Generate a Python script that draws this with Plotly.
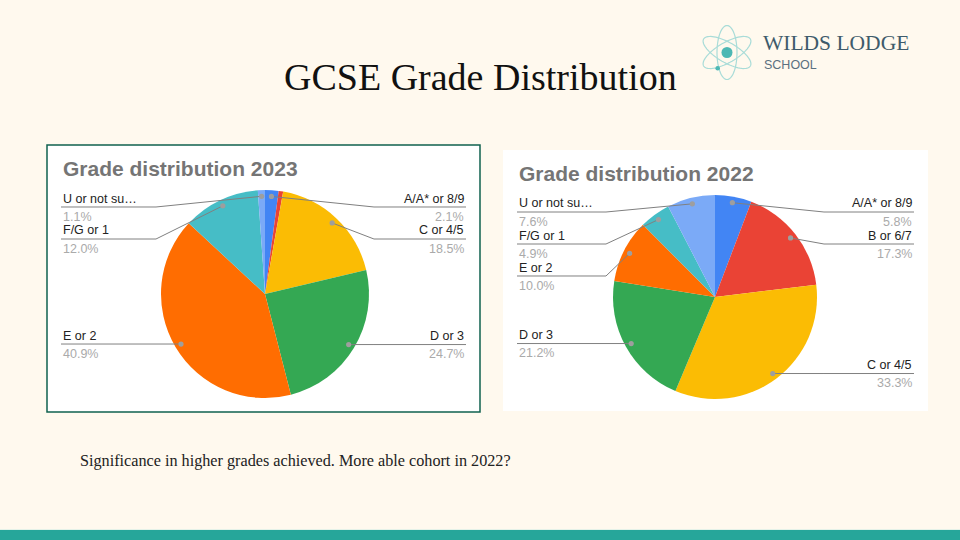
import numpy as np
import plotly.graph_objects as go

W, H = 960, 540

# ---------------- data ----------------
categories = ["A/A* or 8/9", "B or 6/7", "C or 4/5", "D or 3", "E or 2", "F/G or 1", "U or not submitted"]
values_2023 = [2.1, 0.7, 18.5, 24.7, 40.9, 12.0, 1.1]
values_2022 = [5.8, 17.3, 33.3, 21.2, 10.0, 4.9, 7.6]
slice_colors = ["#4285F4", "#EA4335", "#FBBC04", "#34A853", "#FF6D01", "#46BDC6", "#7BAAF7"]

page_title = "GCSE Grade Distribution"
chart_titles = ["Grade distribution 2023", "Grade distribution 2022"]
note_text = "Significance in higher grades achieved. More able cohort in 2022?"
logo_name = "WILDS LODGE"
logo_sub = "SCHOOL"

BG = "#FFF9EE"
SANS = "Liberation Sans, Arial, sans-serif"
SERIF = "Liberation Serif, Times New Roman, serif"


def px(x):
    return x / W


def py(y):
    return 1 - y / H


def short(name, n=11):
    return name if len(name) <= n + 1 else name[:n] + "\u2026"


fig = go.Figure()
shapes = []
annotations = []

charts = [
    dict(title=chart_titles[0], values=values_2023, box=(47, 145, 480, 412), border=True,
         cx=265, cy=294, r=104),
    dict(title=chart_titles[1], values=values_2022, box=(503, 150, 928, 411), border=False,
         cx=715, cy=297, r=102),
]

for ch in charts:
    x0, y0, x1, y1 = ch["box"]
    shapes.append(dict(type="rect", xref="paper", yref="paper", layer="below",
                       x0=px(x0), x1=px(x1), y0=py(y1), y1=py(y0),
                       fillcolor="white",
                       line=dict(color="#10614F", width=1.5 if ch["border"] else 0)))
    annotations.append(dict(text="<b>%s</b>" % ch["title"], x=px(x0 + 14), y=py(y0 + 24),
                            xref="paper", yref="paper", xanchor="left", yanchor="middle",
                            showarrow=False, font=dict(family=SANS, size=21, color="#757575")))
    cx, cy, r = ch["cx"], ch["cy"], ch["r"]
    vals = np.array(ch["values"], dtype=float)
    fig.add_trace(go.Pie(labels=categories, values=vals, sort=False, direction="clockwise",
                         rotation=0, textinfo="none", hoverinfo="label+value",
                         marker=dict(colors=slice_colors, line=dict(width=0)),
                         domain=dict(x=[px(cx - r), px(cx + r)], y=[py(cy + r), py(cy - r)]),
                         showlegend=False))

    # leader lines / labels computed from the data
    total = vals.sum()
    mid = (np.cumsum(vals) - vals / 2) / total
    theta = 2 * np.pi * mid
    dx = cx + 0.94 * r * np.sin(theta)
    dy = cy - 0.94 * r * np.cos(theta)
    top_min = y0 + 62
    gap = 32
    right = [i for i in range(len(vals)) if mid[i] < 0.5 and vals[i] >= 1]
    left = [i for i in reversed(range(len(vals))) if mid[i] >= 0.5 and vals[i] >= 1]
    for side, idxs in (("right", right), ("left", left)):
        prev = -1e9
        for i in idxs:
            ly = max(dy[i], prev + gap, top_min)
            prev = ly
            if side == "left":
                tx = x0 + 14
                bx = cx - 109
                anc = "left"
            else:
                tx = x1 - 14
                bx = cx + 109
                anc = "right"
            shapes.append(dict(type="path", xref="paper", yref="paper", layer="above",
                               path="M %f %f L %f %f L %f %f" % (px(tx), py(ly), px(bx), py(ly),
                                                                 px(dx[i]), py(dy[i])),
                               line=dict(color="#808080", width=1)))
            rr = 2.6
            shapes.append(dict(type="circle", xref="paper", yref="paper", layer="above",
                               x0=px(dx[i] - rr), x1=px(dx[i] + rr),
                               y0=py(dy[i] + rr), y1=py(dy[i] - rr),
                               fillcolor="#9E9E9E", line=dict(width=0)))
            annotations.append(dict(text=short(categories[i]), x=px(tx), y=py(ly - 8.5),
                                    xref="paper", yref="paper", xanchor=anc, yanchor="middle",
                                    showarrow=False,
                                    font=dict(family=SANS, size=12.5, color="#222222")))
            annotations.append(dict(text="%.1f%%" % vals[i], x=px(tx), y=py(ly + 9.5),
                                    xref="paper", yref="paper", xanchor=anc, yanchor="middle",
                                    showarrow=False,
                                    font=dict(family=SANS, size=12.5, color="#AAAAAA")))

# page title & note
annotations.append(dict(text=page_title, x=0.5, y=py(77), xref="paper", yref="paper",
                        xanchor="center", yanchor="middle", showarrow=False,
                        font=dict(family=SERIF, size=38, color="#111111")))
annotations.append(dict(text=note_text, x=px(78), y=py(461), xref="paper", yref="paper",
                        xanchor="left", yanchor="middle", showarrow=False,
                        font=dict(family=SERIF, size=16.2, color="#222222")))

# bottom bar
shapes.append(dict(type="rect", xref="paper", yref="paper", layer="below",
                   x0=0, x1=1, y0=py(540), y1=py(529.2), fillcolor="#DCEFE6", line=dict(width=0)))
shapes.append(dict(type="rect", xref="paper", yref="paper", layer="below",
                   x0=0, x1=1, y0=py(540), y1=py(530), fillcolor="#26A69A", line=dict(width=0)))

# logo
lcx, lcy = 727, 52.5
t = np.linspace(0, 2 * np.pi, 73)
for ang in (90, 30, 150):
    a, b = 27, 10
    phi = np.radians(ang)
    ex = a * np.cos(t) * np.cos(phi) - b * np.sin(t) * np.sin(phi)
    ey = a * np.cos(t) * np.sin(phi) + b * np.sin(t) * np.cos(phi)
    path = "M " + " L ".join("%f %f" % (px(lcx + u), py(lcy + v)) for u, v in zip(ex, ey)) + " Z"
    shapes.append(dict(type="path", xref="paper", yref="paper", layer="above", path=path,
                       line=dict(color="#A9DCD8", width=1.2)))
for (ox, oy, rr) in ((lcx, lcy, 5.5), (717.7, 68.3, 2.3)):
    shapes.append(dict(type="circle", xref="paper", yref="paper", layer="above",
                       x0=px(ox - rr), x1=px(ox + rr), y0=py(oy + rr), y1=py(oy - rr),
                       fillcolor="#4DB8B4", line=dict(width=0)))
annotations.append(dict(text=logo_name, x=px(762), y=py(42.5), xref="paper", yref="paper",
                        xanchor="left", yanchor="middle", showarrow=False, borderpad=0,
                        font=dict(family=SERIF, size=21.5, color="#3E5B6B")))
annotations.append(dict(text=logo_sub, x=px(763), y=py(64.5), xref="paper", yref="paper",
                        xanchor="left", yanchor="middle", showarrow=False, borderpad=0,
                        font=dict(family=SANS, size=12.5, color="#5B7080")))

fig.update_layout(width=W, height=H, margin=dict(l=0, r=0, t=0, b=0),
                  paper_bgcolor=BG, plot_bgcolor=BG,
                  shapes=shapes, annotations=annotations)
fig.write_html("out.html", config=dict(displayModeBar=False),
               post_script="document.body.style.margin='0';document.body.style.overflow='hidden';"
                           "document.documentElement.style.background='%s';" % BG)
